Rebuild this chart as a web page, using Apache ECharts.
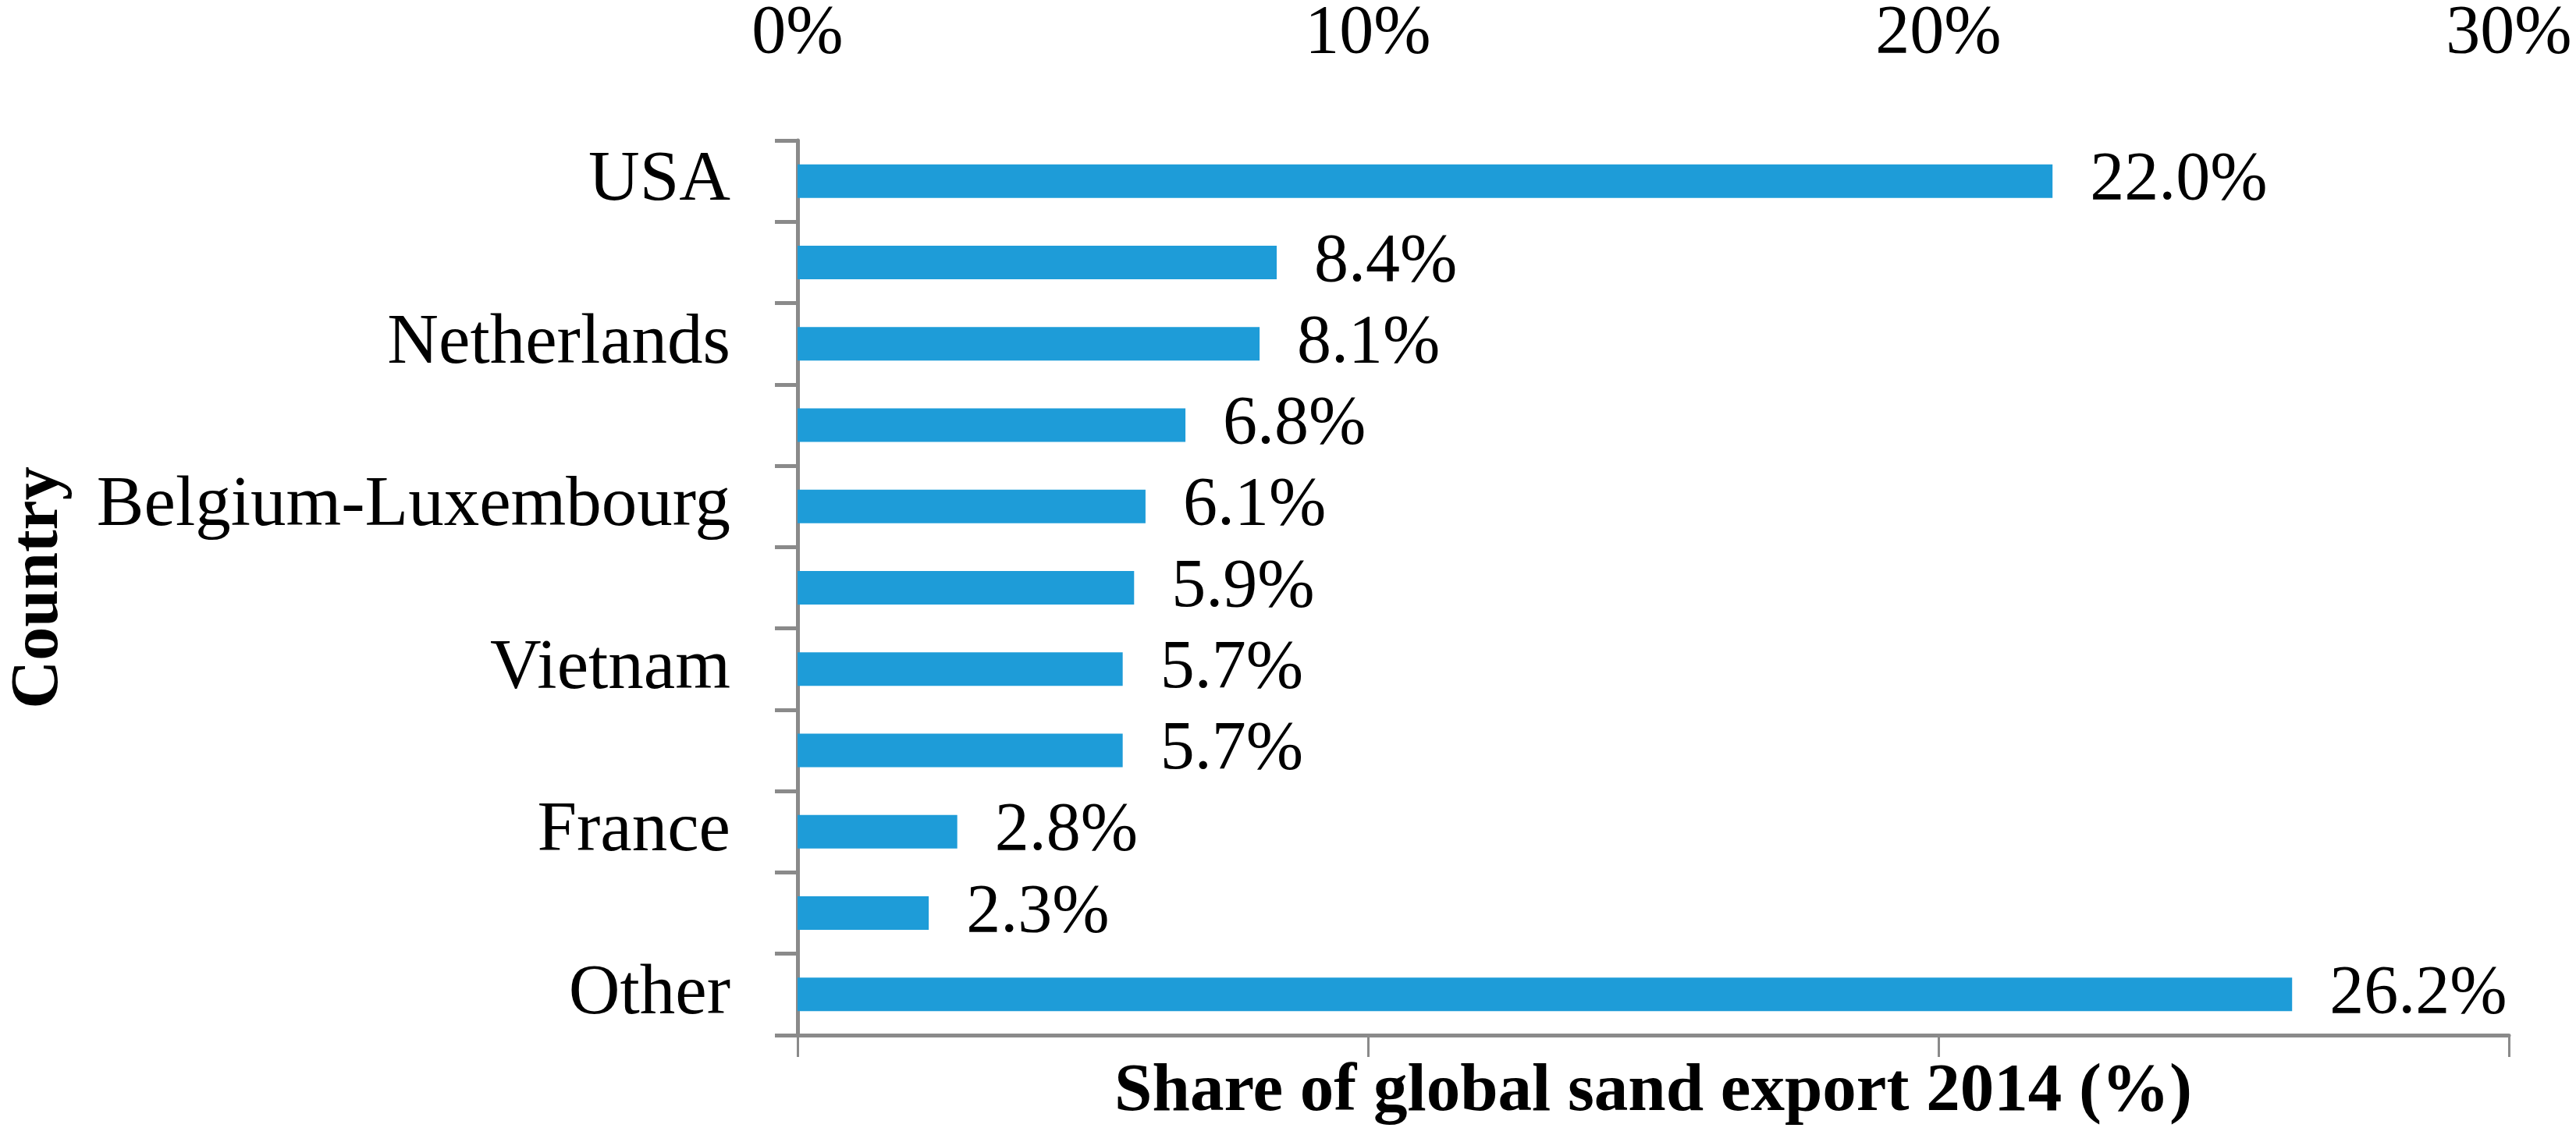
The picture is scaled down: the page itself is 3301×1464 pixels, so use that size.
<!DOCTYPE html>
<html>
<head>
<meta charset="utf-8">
<script src="https://cdn.jsdelivr.net/npm/echarts@6/dist/echarts.min.js"></script>
<style>
  html, body { margin: 0; padding: 0; background: #fff; }
  #container { width: 3301px; height: 1464px; }
</style>
</head>
<body>
<div id="container"></div>
<script>
// categories, top to bottom; every second name is not printed in the original
var countries = ['USA', '', 'Netherlands', '', 'Belgium-Luxembourg', '', 'Vietnam', '', 'France', '', 'Other'];
var shares = [22.0, 8.4, 8.1, 6.8, 6.1, 5.9, 5.7, 5.7, 2.8, 2.3, 26.2];
var axisMin = 0, axisMax = 30, axisStep = 10;

var dom = document.getElementById('container');
var myChart = echarts.init(dom);
var font = 'Liberation Serif';
var gray = '#8a8a8a';

var option = {
    backgroundColor: '#fff',
    animation: false,
    grid: {
        left: 1020,
        right: 86,
        top: 175,
        bottom: 137
    },
    xAxis: [
        {
            // labels only, printed above the plot
            type: 'value',
            position: 'top',
            min: axisMin,
            max: axisMax,
            interval: axisStep,
            axisLine: {show: false},
            axisTick: {show: false},
            splitLine: {show: false},
            axisLabel: {
                margin: 92,
                formatter: '{value}%',
                fontFamily: font,
                fontSize: 88,
                color: '#000'
            }
        },
        {
            type: 'value',
            position: 'bottom',
            min: axisMin,
            max: axisMax,
            interval: axisStep,
            axisLine: {show: true, lineStyle: {color: gray, width: 5}},
            axisTick: {show: true, inside: false, length: 28, lineStyle: {color: gray, width: 3}},
            splitLine: {show: false},
            axisLabel: {show: false},
            name: 'Share of global sand export 2014 (%)',
            nameLocation: 'middle',
            nameGap: 30,
            nameTextStyle: {
                fontFamily: font,
                fontWeight: 'bold',
                fontSize: 87,
                color: '#000',
                verticalAlign: 'top'
            }
        }
    ],
    yAxis: {
        type: 'category',
        inverse: true,
        data: countries,
        axisLine: {show: true, lineStyle: {color: gray, width: 5}},
        axisTick: {show: true, interval: 0, length: 29, lineStyle: {color: gray, width: 5}},
        axisLabel: {
            interval: 1,
            margin: 86,
            fontFamily: font,
            fontSize: 91,
            color: '#000'
        },
        name: 'Country',
        nameLocation: 'middle',
        nameGap: 928,
        nameRotate: 90,
        nameTextStyle: {
            fontFamily: font,
            fontWeight: 'bold',
            fontSize: 86,
            color: '#000'
        }
    },
    series: [
        {
            type: 'bar',
            xAxisIndex: 1,
            data: shares,
            barWidth: 43,
            itemStyle: {color: '#1e9cd8'},
            label: {
                show: true,
                position: 'right',
                distance: 48,
                formatter: function (p) {
                    return p.value.toFixed(1) + '%';
                },
                fontFamily: font,
                fontSize: 88,
                color: '#000'
            }
        }
    ]
};
myChart.setOption(option);
</script>
</body>
</html>
